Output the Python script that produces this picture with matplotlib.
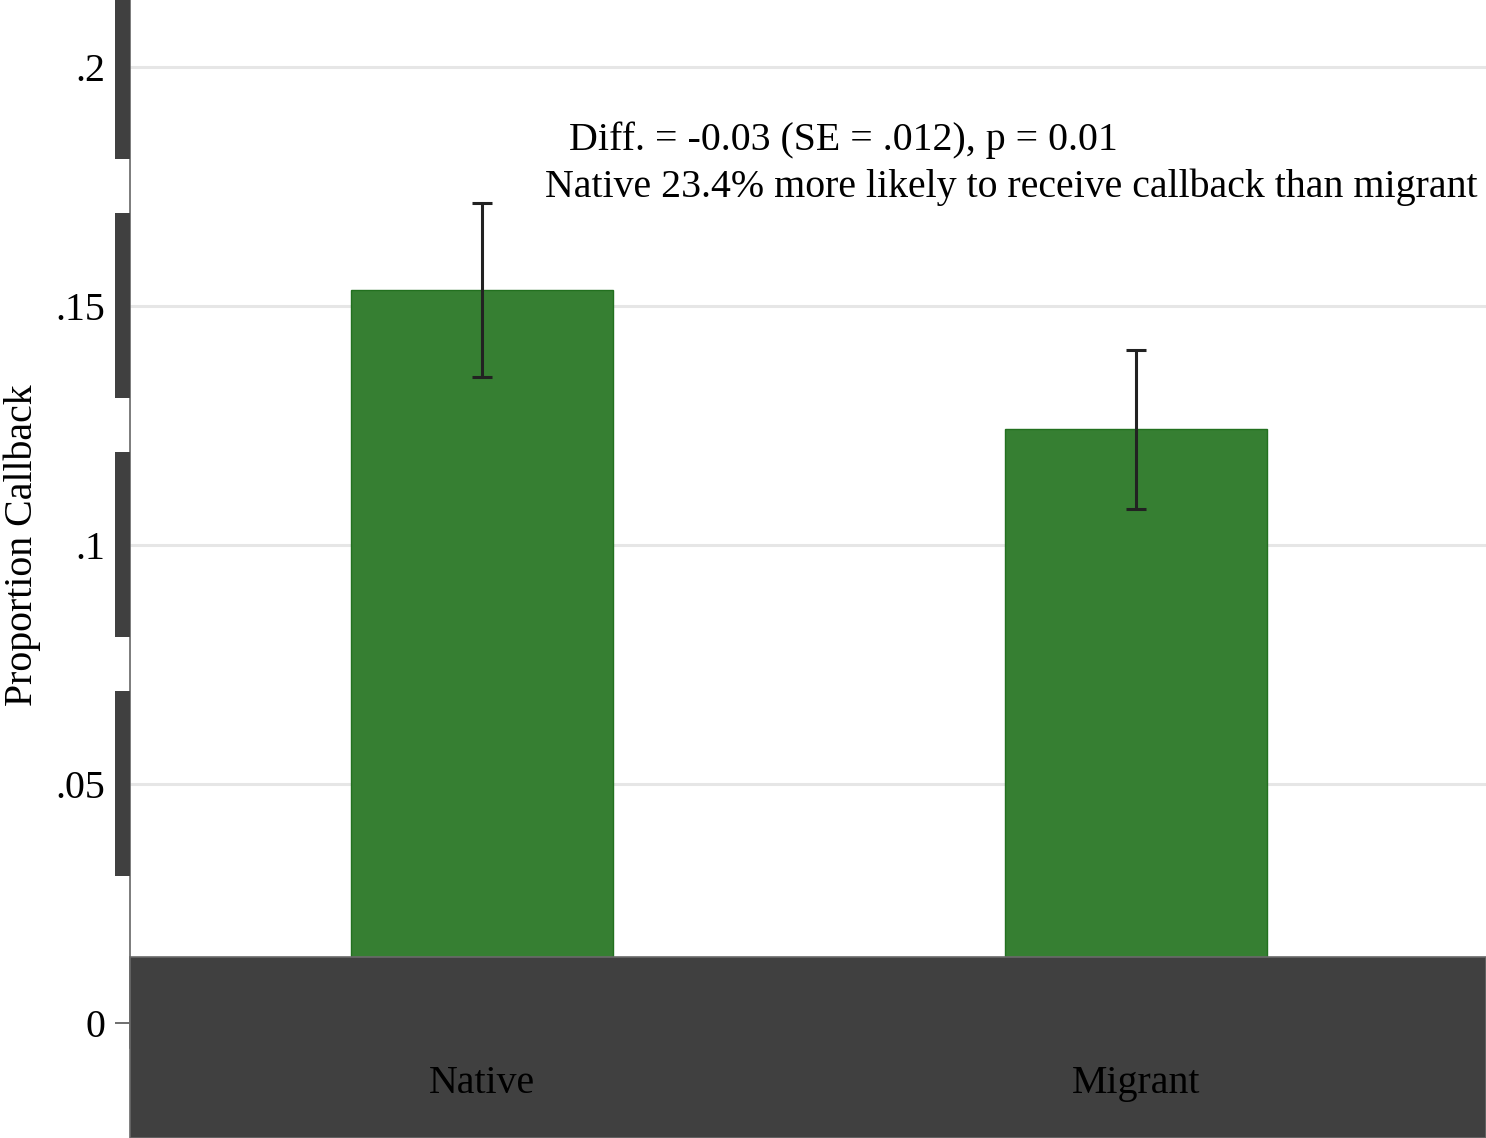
import matplotlib
matplotlib.use("Agg")
import matplotlib.pyplot as plt
from matplotlib.patches import Rectangle
import numpy as np

categories = ["Native", "Migrant"]
means = [0.1533, 0.1243]
ci_low = [0.1351, 0.1075]
ci_high = [0.1715, 0.1408]
yticks = [0, 0.05, 0.1, 0.15, 0.2]
ytick_labels = ["0", ".05", ".1", ".15", ".2"]
note1 = "Diff. = -0.03 (SE = .012), p = 0.01"
note2 = "Native 23.4% more likely to receive callback than migrant"

plt.rcParams['font.family'] = ['Liberation Serif', 'DejaVu Serif']
FS = 28.7

W, H = 1486, 1138
fig = plt.figure(figsize=(W / 100, H / 100), dpi=100)
left, right, top, bottom = 130, 1486, 0, 1048
ax = fig.add_axes([left / W, (H - bottom) / H, (right - left) / W, (bottom - top) / H])

x = np.arange(1, len(categories) + 1)
green = "#367f32"
ax.bar(x, means, width=0.4, color=green, edgecolor="#22701f", linewidth=1, zorder=3)
yerr = [np.array(means) - np.array(ci_low), np.array(ci_high) - np.array(means)]
ax.errorbar(x, means, yerr=yerr, fmt="none", ecolor="#222222", elinewidth=2.2,
            capsize=7.2, capthick=2.2, zorder=4)

ax.set_xlim(0.462, 2.535)
ax.set_ylim(-0.00523, 0.2140)
ax.set_yticks(yticks)
ax.set_yticklabels(ytick_labels, fontsize=FS)
ax.set_xticks(x)
ax.set_xticklabels(categories, fontsize=FS, color="black")
ax.tick_params(axis="x", length=0, pad=12)
ax.tick_params(axis="y", length=10.8, width=1.2, color="#555555", pad=7)
ax.xaxis.set_zorder(7)

for t in yticks[1:]:
    ax.axhline(t, color="#e6e6e6", lw=2.2, zorder=1)

for s in ["top", "right", "bottom"]:
    ax.spines[s].set_visible(False)
ax.spines["left"].set_color("#666666")
ax.spines["left"].set_linewidth(1.2)

ax.set_ylabel("Proportion Callback", fontsize=FS)
ax.yaxis.set_label_coords((41 - 130) / 1356, (1048 - 545) / 1048)

# thick block marks on y axis
half = 92.5 / 239 * 0.05
for t in yticks[1:]:
    ax.add_patch(Rectangle((-15 / 1356, t - half), 15 / 1356, 2 * half,
                           transform=ax.get_yaxis_transform(), clip_on=False,
                           facecolor="#404040", edgecolor="none", zorder=6))

# dark bottom band
ax.add_patch(Rectangle((left / W, 0), (W - left) / W, (H - 957) / H,
                       transform=fig.transFigure, clip_on=False,
                       facecolor="#404040", edgecolor="#6a6a6a", linewidth=1.2, zorder=6))

fig.text(569 / W, 1 - 140 / H, note1, fontsize=FS, ha="left", va="center")
fig.text(545 / W, 1 - 187 / H, note2, fontsize=FS, ha="left", va="center")

fig.savefig("out.png", dpi=100)
